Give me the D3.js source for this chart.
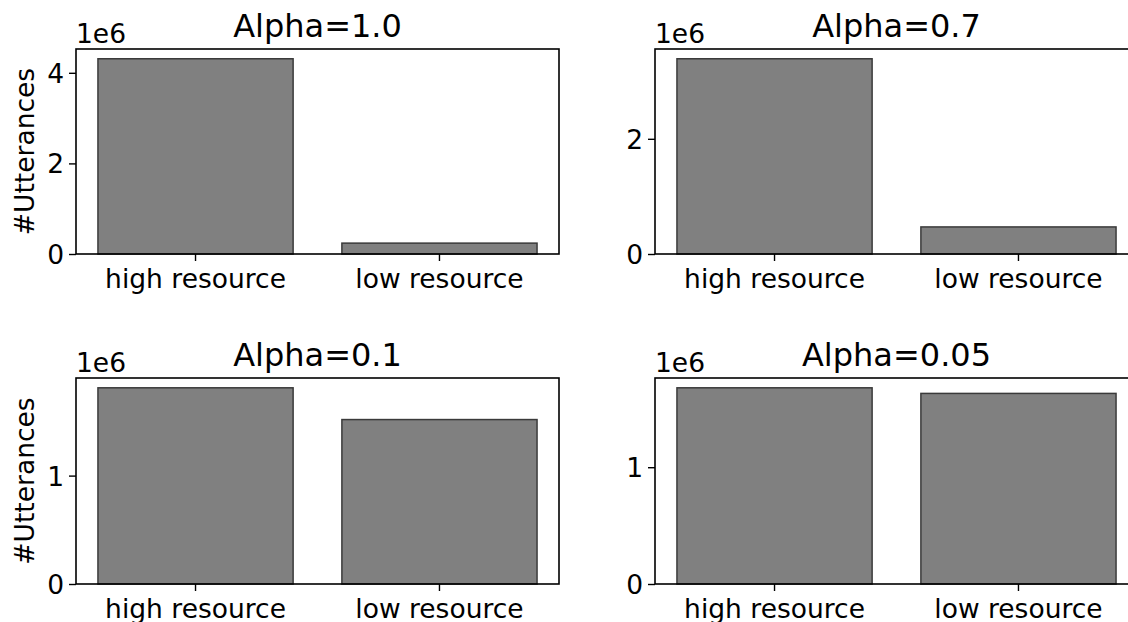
<!DOCTYPE html>
<html>
<head>
<meta charset="utf-8">
<script src="https://cdn.jsdelivr.net/npm/d3@7"></script>
<style>
  body { margin: 0; background: #fff; }
  svg { display: block; font-family: "DejaVu Sans", sans-serif; }
  .domain { display: none; }
</style>
</head>
<body>
<svg width="1128" height="622"></svg>
<script>
// categories and values (units of 1e6 utterances)
var categories = ["high resource", "low resource"];
var titles = ["Alpha=1.0", "Alpha=0.7", "Alpha=0.1", "Alpha=0.05"];
var alpha10 = [4.31e6, 0.24e6];
var alpha07 = [3.39e6, 0.47e6];
var alpha01 = [1.81e6, 1.517e6];
var alpha005 = [1.68e6, 1.632e6];
var ticks10 = [0, 2e6, 4e6];
var ticks07 = [0, 2e6];
var ticks01 = [0, 1e6];
var ticks005 = [0, 1e6];

var panels = [
    { title: titles[0], values: alpha10, ticks: ticks10, col: 0, row: 0 },
    { title: titles[1], values: alpha07, ticks: ticks07, col: 1, row: 0 },
    { title: titles[2], values: alpha01, ticks: ticks01, col: 0, row: 1 },
    { title: titles[3], values: alpha005, ticks: ticks005, col: 1, row: 1 }
];

var colLeft = [76, 655],
    rowTop = [49, 378],
    width = 483,
    rowHeight = [205, 206];

var font = "DejaVu Sans, sans-serif";
var fontSize = 26.5;
var svg = d3.select("svg");

panels.forEach(function (p) {
    var height = rowHeight[p.row];
    var g = svg.append("g")
        .attr("transform", "translate(" + colLeft[p.col] + "," + rowTop[p.row] + ")");

    // matplotlib-like layout: bar width 0.8, 5% margins
    var x = d3.scaleBand()
        .domain(categories)
        .range([0, width])
        .paddingInner(0.2)
        .paddingOuter(0.09);

    var y = d3.scaleLinear()
        .domain([0, d3.max(p.values) * 1.05])
        .range([height, 0]);

    g.selectAll(".bar")
        .data(p.values)
        .enter().append("rect")
        .attr("class", "bar")
        .attr("x", function (d, i) { return x(categories[i]); })
        .attr("y", function (d) { return y(d); })
        .attr("width", x.bandwidth())
        .attr("height", function (d) { return height - y(d); })
        .attr("fill", "#808080")
        .attr("stroke", "#3a3a3a")
        .attr("stroke-width", 1.5);

    var yAxis = d3.axisLeft(y)
        .tickValues(p.ticks)
        .tickSize(7)
        .tickPadding(5)
        .tickFormat(function (d) { return d3.format("d")(d / 1e6); });

    var xAxis = d3.axisBottom(x)
        .tickSize(7)
        .tickPadding(8);

    var ya = g.append("g").call(yAxis)
        .attr("font-family", font).attr("font-size", fontSize);
    ya.selectAll("text").attr("fill", "#000").attr("dy", "0.36em");
    ya.selectAll("line").attr("stroke", "#000").attr("stroke-width", 1.4);

    var xa = g.append("g")
        .attr("transform", "translate(0," + height + ")")
        .call(xAxis)
        .attr("font-family", font).attr("font-size", fontSize);
    xa.selectAll("text").attr("fill", "#000");
    xa.selectAll("line").attr("stroke", "#000").attr("stroke-width", 1.4);

    // frame
    g.append("rect")
        .attr("width", width)
        .attr("height", height)
        .attr("fill", "none")
        .attr("stroke", "#000")
        .attr("stroke-width", 1.6);

    // offset text
    g.append("text")
        .attr("x", 0)
        .attr("y", -6)
        .attr("font-size", fontSize)
        .text("1e6");

    g.append("text")
        .attr("x", width / 2)
        .attr("y", -12)
        .attr("text-anchor", "middle")
        .attr("font-size", 32)
        .text(p.title);

    if (p.col == 0) {
        g.append("text")
            .attr("transform", "translate(" + (-42) + "," + (height / 2) + ") rotate(-90)")
            .attr("text-anchor", "middle")
            .attr("font-size", fontSize)
            .text("#Utterances");
    }
});
</script>
</body>
</html>
